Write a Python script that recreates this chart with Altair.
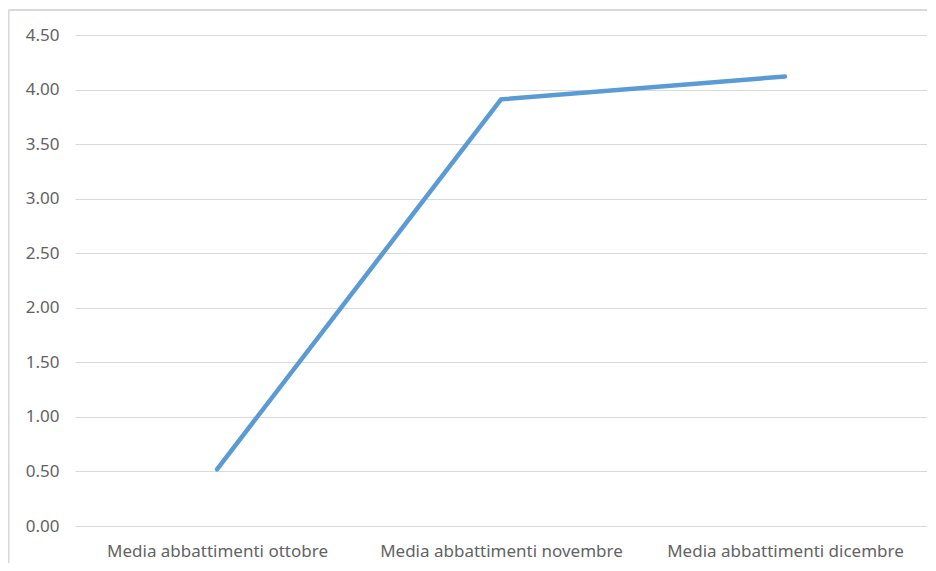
import altair as alt
import pandas as pd

categories = ["Media abbattimenti ottobre", "Media abbattimenti novembre", "Media abbattimenti dicembre"]
values = [0.52, 3.91, 4.12]
y_ticks = [0, 0.5, 1, 1.5, 2, 2.5, 3, 3.5, 4, 4.5]

df = pd.DataFrame({"cat": categories, "val": values})

FONT = "Noto Sans"
GREY = "#636363"

line = alt.Chart(df).mark_line(color="#5b9bd5", strokeWidth=4.5, strokeCap="round", strokeJoin="miter").encode(
    x=alt.X("cat:N", sort=categories, title=None,
            scale=alt.Scale(paddingInner=0, paddingOuter=0),
            axis=alt.Axis(labelAngle=0, domain=False, ticks=False, grid=False, labelLimit=0,
                          labelPadding=17, labelFontSize=17, labelColor=GREY, labelFont=FONT)),
    y=alt.Y("val:Q", title=None, scale=alt.Scale(domain=[0, 4.5], nice=False),
            axis=alt.Axis(values=y_ticks, format=".2f", domain=False, ticks=False,
                          gridColor="#d9d9d9", gridWidth=1.2, labelPadding=16,
                          labelFontSize=17, labelColor=GREY, labelFont=FONT)),
)

border_left = alt.Chart(df).mark_rule(color="#d9d9d9", strokeWidth=1.5).encode(
    x=alt.value(-66.5), y=alt.value(-25), y2=alt.value(540)
)
border_top = alt.Chart(df).mark_rule(color="#d9d9d9", strokeWidth=1.5).encode(
    x=alt.value(-66.5), x2=alt.value(870), y=alt.value(-25)
)

chart = alt.layer(border_left, border_top, line).properties(
    width=852, height=491,
    background="white",
    autosize=alt.AutoSizeParams(type="none"),
    padding={"left": 67, "top": 27, "right": 0, "bottom": 37},
).configure_view(strokeWidth=0, stroke="transparent")

chart.save("out.html", embed_options={"renderer": "svg", "actions": False})
